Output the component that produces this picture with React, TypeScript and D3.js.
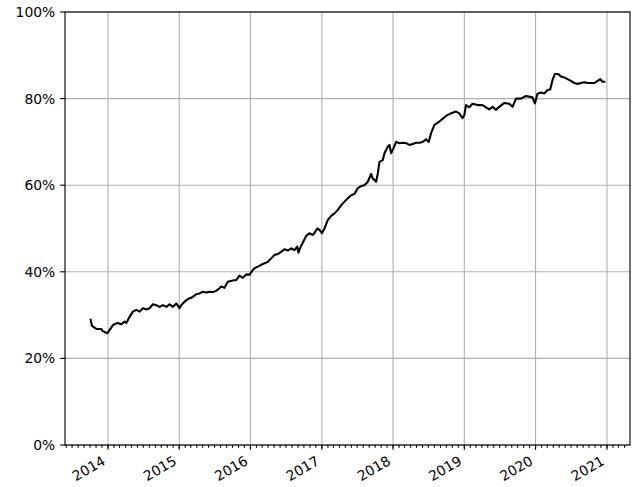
import React from "react";
import * as d3 from "d3";

// decimal year of each observation
const years: number[] = [
  2013.757, 2013.776, 2013.837, 2013.907, 2013.926, 2013.992, 2014.024, 2014.070, 2014.136, 2014.188,
  2014.234, 2014.258, 2014.304, 2014.350, 2014.398, 2014.444, 2014.491, 2014.538, 2014.585, 2014.631,
  2014.678, 2014.725, 2014.771, 2014.819, 2014.865, 2014.911, 2014.959, 2015.005, 2015.029, 2015.075,
  2015.121, 2015.169, 2015.239, 2015.285, 2015.332, 2015.379, 2015.426, 2015.472, 2015.519, 2015.566,
  2015.590, 2015.636, 2015.682, 2015.752, 2015.800, 2015.846, 2015.892, 2015.940, 2015.986, 2016.033,
  2016.056, 2016.103, 2016.173, 2016.243, 2016.291, 2016.337, 2016.383, 2016.431, 2016.477, 2016.523,
  2016.571, 2016.617, 2016.655, 2016.673, 2016.701, 2016.733, 2016.781, 2016.827, 2016.874, 2016.897,
  2016.935, 2016.967, 2017.000, 2017.037, 2017.084, 2017.131, 2017.178, 2017.224, 2017.272, 2017.318,
  2017.364, 2017.412, 2017.458, 2017.504, 2017.552, 2017.598, 2017.645, 2017.692, 2017.714, 2017.762,
  2017.785, 2017.809, 2017.855, 2017.879, 2017.925, 2017.949, 2017.973, 2018.005, 2018.043, 2018.089,
  2018.135, 2018.183, 2018.229, 2018.275, 2018.323, 2018.369, 2018.415, 2018.463, 2018.500, 2018.533,
  2018.579, 2018.650, 2018.743, 2018.814, 2018.884, 2018.930, 2018.976, 2019.000, 2019.024, 2019.070,
  2019.116, 2019.186, 2019.257, 2019.304, 2019.350, 2019.397, 2019.444, 2019.491, 2019.561, 2019.631,
  2019.677, 2019.725, 2019.795, 2019.865, 2019.925, 2019.957, 2019.991, 2020.027, 2020.075, 2020.121,
  2020.168, 2020.205, 2020.238, 2020.271, 2020.318, 2020.355, 2020.402, 2020.448, 2020.496, 2020.542,
  2020.588, 2020.636, 2020.682, 2020.728, 2020.776, 2020.822, 2020.869, 2020.906, 2020.939, 2020.963,
];

// share, in percent
const shares: number[] = [
  28.9, 27.5, 26.8, 26.8, 26.3, 25.8, 26.6, 27.7, 28.2, 27.9,
  28.5, 28.2, 29.6, 30.8, 31.2, 30.8, 31.6, 31.3, 31.6, 32.5,
  32.3, 31.9, 32.3, 31.9, 32.5, 31.9, 32.7, 31.6, 32.3, 33.1,
  33.7, 34.0, 34.8, 35.0, 35.4, 35.2, 35.4, 35.3, 35.6, 36.2,
  36.6, 36.3, 37.7, 38.0, 38.1, 39.1, 38.6, 39.4, 39.3, 40.4,
  40.8, 41.2, 41.8, 42.3, 43.1, 43.9, 44.1, 44.6, 45.2, 44.9,
  45.4, 45.0, 45.8, 44.4, 45.7, 46.7, 48.3, 48.9, 48.5, 49.0,
  50.0, 49.7, 48.9, 50.0, 52.0, 52.9, 53.5, 54.3, 55.4, 56.2,
  57.0, 57.7, 58.0, 59.3, 59.8, 60.0, 60.8, 62.6, 61.6, 60.8,
  62.7, 65.4, 65.8, 67.4, 68.9, 69.3, 67.4, 68.5, 70.0, 69.7,
  69.8, 69.7, 69.3, 69.5, 69.8, 69.8, 70.0, 70.6, 70.0, 72.0,
  73.9, 74.7, 76.0, 76.6, 77.0, 76.6, 75.5, 76.2, 78.5, 78.0,
  78.8, 78.5, 78.5, 78.0, 77.5, 78.1, 77.4, 78.1, 79.0, 78.8,
  78.1, 80.0, 80.0, 80.6, 80.4, 80.3, 78.9, 81.1, 81.4, 81.2,
  82.0, 82.1, 84.3, 85.7, 85.7, 85.1, 84.9, 84.5, 84.1, 83.6,
  83.4, 83.6, 83.8, 83.6, 83.6, 83.6, 84.1, 84.5, 83.9, 83.9,
];

const yTicks: number[] = [0, 0.2, 0.4, 0.6, 0.8, 1.0];

function yearToDate(y: number): Date {
  const yr = Math.floor(y);
  const start = Date.UTC(yr, 0, 1);
  const end = Date.UTC(yr + 1, 0, 1);
  return new Date(start + (y - yr) * (end - start));
}

const W = 642;
const H = 487;
const L = 65;
const R = 630;
const T = 12;
const B = 445;
const FONT = "'DejaVu Sans', sans-serif";
const FS = 13.9;
const MAJ = 4.86;
const MIN = 2.78;
const PAD = 4.86;
const LW = 1.11;

export default function App() {
  const data = years.map((y, i) => ({ date: yearToDate(y), v: shares[i] / 100 }));
  const t0 = d3.min(years)!;
  const t1 = d3.max(years)!;
  const m = (t1 - t0) * 0.05;
  const x = d3.scaleUtc().domain([yearToDate(t0 - m), yearToDate(t1 + m)]).range([L, R]);
  const y = d3.scaleLinear().domain([0, 1]).range([B, T]);

  const majors = x.ticks(d3.utcYear.every(1)!);
  const minors = x.ticks(d3.utcMonth.every(1)!);
  const fmt = d3.utcFormat("%Y");
  const pct = d3.format(".0%");

  const line = d3
    .line<{ date: Date; v: number }>()
    .x((d) => x(d.date))
    .y((d) => y(d.v));

  return (
    <svg width={W} height={H} style={{ position: "absolute", left: 0, top: 0, background: "#fff" }}>
      <rect x={0} y={0} width={W} height={H} fill="#fff" />
      {/* grid */}
      <g stroke="#b0b0b0" strokeWidth={LW}>
        {majors.map((d, i) => (
          <line key={"gx" + i} x1={x(d)} x2={x(d)} y1={T} y2={B} />
        ))}
        {yTicks.map((t, i) => (
          <line key={"gy" + i} x1={L} x2={R} y1={y(t)} y2={y(t)} />
        ))}
      </g>
      {/* data line */}
      <path
        d={line(data) || ""}
        fill="none"
        stroke="#000"
        strokeWidth={2.08}
        strokeLinejoin="round"
        strokeLinecap="square"
      />
      {/* spines */}
      <rect x={L} y={T} width={R - L} height={B - T} fill="none" stroke="#000" strokeWidth={LW} />
      {/* x ticks */}
      <g stroke="#000" strokeWidth={LW}>
        {minors.map((d, i) => (
          <line key={"mn" + i} x1={x(d)} x2={x(d)} y1={B} y2={B + MIN} />
        ))}
        {majors.map((d, i) => (
          <line key={"mj" + i} x1={x(d)} x2={x(d)} y1={B} y2={B + MAJ} />
        ))}
        {yTicks.map((t, i) => (
          <line key={"yt" + i} x1={L - MAJ} x2={L} y1={y(t)} y2={y(t)} />
        ))}
      </g>
      <g fontFamily={FONT} fontSize={FS} fill="#000">
        {majors.map((d, i) => {
          const ax = x(d) - 1.5;
          const ay = B + MAJ + PAD + 9;
          return (
            <text key={"xl" + i} x={ax} y={ay} textAnchor="end" transform={`rotate(-30 ${ax} ${ay})`}>
              {fmt(d)}
            </text>
          );
        })}
        {yTicks.map((t, i) => (
          <text key={"yl" + i} x={L - MAJ - PAD} y={y(t)} textAnchor="end" dominantBaseline="central">
            {pct(t)}
          </text>
        ))}
      </g>
    </svg>
  );
}
